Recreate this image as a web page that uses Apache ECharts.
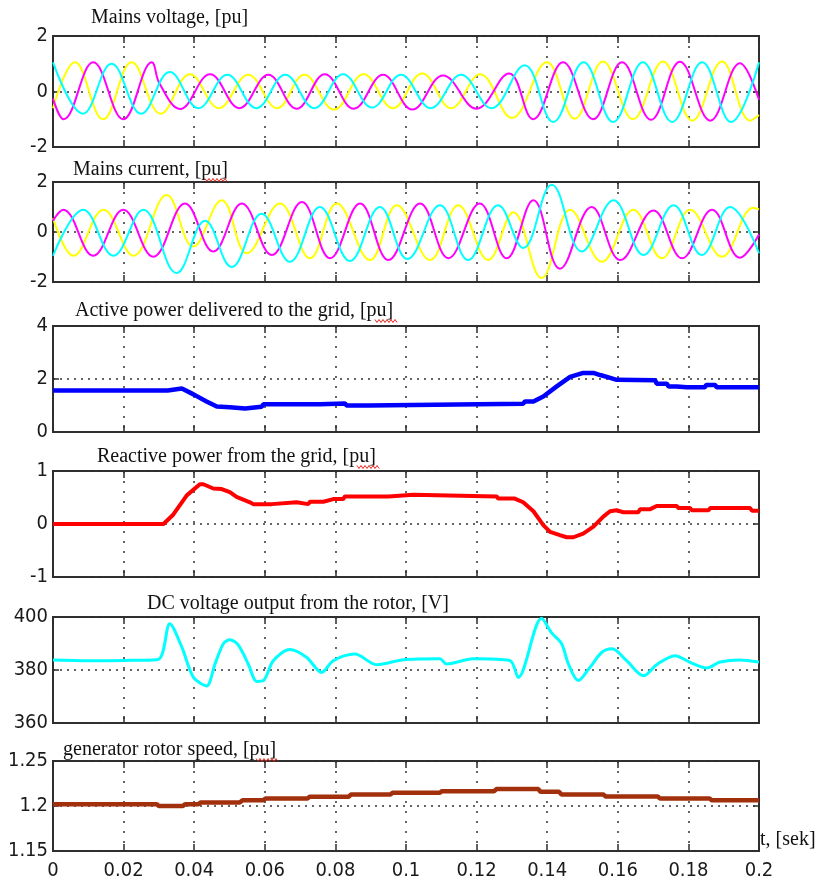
<!DOCTYPE html>
<html lang="en">
<head>
    <meta charset="UTF-8">
    <title>grid_fault_response</title>
    <style>
        html, body { margin: 0; padding: 0; background: #fff; }
    </style>
</head>
<body>
<div id="chart" style="width: 819px;height: 883px;"></div>
<script type="text/javascript" src="https://cdn.jsdelivr.net/npm/echarts@6/dist/echarts.min.js"></script>
<script type="text/javascript">
    // time axis, seconds
    const tMin = 0, tMax = 0.2, tStep = 0.02;

    const titles = [
        'Mains voltage, [pu]',
        'Mains current, [pu]',
        'Active power delivered to the grid, [pu]',
        'Reactive power from the grid, [pu]',
        'DC voltage output from the rotor, [V]',
        'generator rotor speed, [pu]'
    ];
    const timeLabel = 't, [sek]';

    // y ranges of the six panels: [min, max, interval]
    const yRanges = [[-2, 2, 2], [-2, 2, 2], [0, 4, 2], [-1, 1, 1], [360, 400, 20], [1.15, 1.25, 0.05]];

    // mains voltage, peaks and troughs of each phase [t, pu]
    const voltYellow = [[0, -0.6], [0.0062, 1.05], [0.0142, -1.0], [0.0223, 1.05], [0.0305, -0.8], [0.0388, 0.62],
        [0.0470, -0.6], [0.0553, 0.6], [0.0635, -0.6], [0.0712, 0.6], [0.0796, -0.65], [0.0880, 0.62], [0.0963, -0.6],
        [0.1046, 0.65], [0.1128, -0.6], [0.1210, 0.62], [0.1300, -0.95], [0.1399, 1.05], [0.1478, -0.98], [0.1558, 1.08],
        [0.1643, -1.0], [0.1728, 1.08], [0.1811, -1.05], [0.1895, 1.08], [0.1975, -1.05], [0.2, -0.85]];
    const voltMagenta = [[0, -0.25], [0.0030, -1.0], [0.0114, 1.05], [0.0199, -1.0], [0.0280, 1.05], [0.0302, 0.28],
        [0.0360, -0.63], [0.0445, 0.62], [0.0528, -0.6], [0.0610, 0.6], [0.0690, -0.62], [0.0770, 0.62], [0.0852, -0.62],
        [0.0935, 0.6], [0.1018, -0.65], [0.1105, 0.58], [0.1200, -0.62], [0.1292, 0.65], [0.1360, -1.0], [0.1445, 1.05],
        [0.1530, -1.0], [0.1612, 1.05], [0.1694, -1.02], [0.1776, 1.07], [0.1862, -1.05], [0.1946, 1.02], [0.2, -0.3]];
    const voltCyan = [[0, 1.05], [0.0085, -0.8], [0.0166, 1.0], [0.0250, -0.8], [0.0331, 0.7], [0.0412, -0.6],
        [0.0494, 0.6], [0.0576, -0.6], [0.0658, 0.6], [0.0740, -0.6], [0.0822, 0.62], [0.0904, -0.58], [0.0986, 0.6],
        [0.1070, -0.6], [0.1156, 0.6], [0.1242, -0.6], [0.1336, 0.95], [0.1417, -1.1], [0.1503, 1.05], [0.1587, -1.1],
        [0.1671, 1.05], [0.1754, -1.1], [0.1839, 1.05], [0.1921, -1.1], [0.2, 1.05]];

    // mains current [t, pu]
    const curYellow = [[0, 0.55], [0.0058, -0.95], [0.0143, 0.89], [0.0228, -0.95], [0.0322, 1.48], [0.0397, -0.58],
        [0.0478, 1.27], [0.0549, -0.85], [0.0643, 1.14], [0.0728, -1.05], [0.0804, 1.14], [0.0898, -1.12], [0.0974, 1.07],
        [0.1068, -1.12], [0.1148, 1.07], [0.1233, -1.12], [0.1304, 0.79], [0.1384, -1.84], [0.1465, 0.89], [0.1555, -1.19],
        [0.1644, 0.89], [0.1725, -1.05], [0.1805, 0.89], [0.1895, -0.99], [0.1984, 0.97], [0.2, 0.9]];
    const curMagenta = [[0, 0.45], [0.0029, 0.89], [0.0114, -0.95], [0.0199, 0.89], [0.0284, -0.99], [0.0374, 1.14],
        [0.0454, -0.78], [0.0535, 1.14], [0.0620, -0.92], [0.0705, 1.2], [0.0785, -1.05], [0.0870, 1.14], [0.0950, -1.12],
        [0.1040, 1.14], [0.1120, -1.05], [0.1209, 1.14], [0.1285, -1.05], [0.1361, 1.27], [0.1436, -1.47], [0.1526, 1.0],
        [0.1607, -1.12], [0.1701, 0.86], [0.1782, -1.05], [0.1867, 0.89], [0.1946, -1.03], [0.2, -0.1]];
    const curCyan = [[0, -0.95], [0.0086, 0.89], [0.0171, -0.95], [0.0256, 0.89], [0.0350, -1.64], [0.0431, 0.45],
        [0.0506, -1.4], [0.0591, 0.73], [0.0671, -1.19], [0.0756, 1.0], [0.0841, -1.16], [0.0926, 1.0], [0.1004, -1.08],
        [0.1096, 1.07], [0.1176, -1.12], [0.1261, 1.07], [0.1332, -0.64], [0.1413, 1.89], [0.1498, -0.78], [0.1588, 1.27],
        [0.1673, -0.92], [0.1758, 1.07], [0.1838, -0.92], [0.1918, 1.0], [0.2, -0.85]];

    // active power delivered to the grid [t, pu]
    const activePower = [[0, 1.57], [0.0325, 1.57], [0.0330, 1.64], [0.0365, 1.64], [0.0398, 1.42], [0.0435, 1.15],
        [0.0464, 0.96], [0.0501, 0.93], [0.0506, 0.89], [0.0544, 0.89], [0.0549, 0.955], [0.0591, 0.955], [0.0596, 1.045],
        [0.0756, 1.045], [0.0761, 1.08], [0.0827, 1.08], [0.0832, 1.0], [0.0893, 1.0], [0.0898, 1.07], [0.1332, 1.07],
        [0.1337, 1.15], [0.1361, 1.15], [0.1389, 1.34], [0.1427, 1.72], [0.1465, 2.08], [0.1502, 2.23], [0.1531, 2.23],
        [0.1550, 2.15], [0.1569, 2.08], [0.1597, 1.97], [0.1601, 1.95], [0.1706, 1.95], [0.1710, 1.82], [0.1739, 1.82],
        [0.1744, 1.72], [0.1767, 1.72], [0.1795, 1.69], [0.1847, 1.69], [0.1850, 1.77], [0.1876, 1.77], [0.1880, 1.69],
        [0.2, 1.69]];

    // reactive power from the grid [t, pu]
    const reactivePower = [[0, 0], [0.0313, 0], [0.0341, 0.18], [0.0379, 0.54], [0.0416, 0.75], [0.0426, 0.75],
        [0.0454, 0.67], [0.0478, 0.66], [0.0501, 0.6], [0.0520, 0.51], [0.0558, 0.41], [0.0567, 0.375], [0.0620, 0.375],
        [0.0624, 0.41], [0.0690, 0.41], [0.0695, 0.375], [0.0723, 0.375], [0.0728, 0.42], [0.0766, 0.42], [0.0794, 0.47],
        [0.0822, 0.47], [0.0827, 0.52], [0.0950, 0.52], [0.0955, 0.55], [0.1021, 0.55], [0.1026, 0.52], [0.1257, 0.52],
        [0.1261, 0.48], [0.1308, 0.48], [0.1332, 0.41], [0.1361, 0.24], [0.1389, -0.02], [0.1408, -0.15], [0.1436, -0.21],
        [0.1455, -0.25], [0.1474, -0.25], [0.1502, -0.18], [0.1531, -0.05], [0.1559, 0.14], [0.1578, 0.24], [0.1597, 0.26],
        [0.1616, 0.22], [0.1658, 0.22], [0.1663, 0.28], [0.1692, 0.28], [0.1710, 0.34], [0.1767, 0.34], [0.1772, 0.3],
        [0.1805, 0.3], [0.1809, 0.26], [0.1857, 0.26], [0.1862, 0.3], [0.1975, 0.3], [0.1980, 0.25], [0.2, 0.25]];

    // DC link voltage [t, V]
    const dcVoltage = [[0, 383.8], [0.010, 383.5], [0.020, 383.6], [0.0298, 384], [0.0331, 397.5], [0.0365, 388.6],
        [0.0398, 377.2], [0.0435, 374], [0.0459, 382.3], [0.0483, 390], [0.0501, 391.4], [0.0525, 389.4], [0.0554, 382],
        [0.0577, 375.7], [0.0596, 376], [0.0624, 383.5], [0.0671, 387.7], [0.0718, 384.8], [0.0761, 379.1],
        [0.0794, 383.5], [0.0855, 386], [0.0917, 382], [0.1000, 384], [0.1096, 384.2], [0.1115, 382.3], [0.1190, 384.2],
        [0.1294, 383.6], [0.1318, 377.2], [0.1384, 399.5], [0.1413, 393.9], [0.1441, 389.9], [0.1460, 382.3],
        [0.1488, 376], [0.1521, 381], [0.1555, 386.7], [0.1584, 388], [0.1625, 383.5], [0.1673, 377.8], [0.1710, 382],
        [0.1762, 385.4], [0.1805, 382.9], [0.1852, 380.8], [0.1890, 383], [0.1946, 383.8], [0.2, 383]];

    // generator rotor speed [t, pu]
    const rotorSpeed = [[0, 1.202], [0.0294, 1.202], [0.0300, 1.2], [0.0368, 1.2], [0.0374, 1.202], [0.0412, 1.202],
        [0.0418, 1.204], [0.0529, 1.204], [0.0537, 1.2065], [0.0596, 1.2065], [0.0602, 1.2084], [0.0721, 1.2084],
        [0.0727, 1.2102], [0.0838, 1.2102], [0.0844, 1.2128], [0.0956, 1.2128], [0.0962, 1.2147], [0.1096, 1.2147],
        [0.1102, 1.2165], [0.1250, 1.2165], [0.1256, 1.2188], [0.1375, 1.2188], [0.1381, 1.2158], [0.1434, 1.2158],
        [0.1440, 1.2128], [0.1559, 1.2128], [0.1565, 1.2106], [0.1713, 1.2106], [0.1719, 1.2084], [0.1860, 1.2084],
        [0.1866, 1.2065], [0.2, 1.2065]];

    // panel boxes in pixels and title anchors
    const panelTops = [36, 182, 326, 471, 617, 761];
    const panelHeights = [111, 100, 106, 106, 106, 90];
    const titleAnchors = [[91, 18], [73, 170], [75, 311], [97, 457], [147, 604], [63, 750]];
    // red spell-check squiggles under "pu": [x0, x1, y]
    const squiggles = [[205, 227, 180], [375, 397, 321], [357, 379, 467], [256, 279, 760]];

    const axisFont = '"DejaVu Sans Condensed", "Liberation Sans Narrow", sans-serif';
    const titleFont = '20px "Liberation Serif", "Times New Roman", serif';
    const frameColor = '#2e2e2e';

    let myChart = echarts.init(document.getElementById('chart'), null, {renderer: 'canvas'});

    function getGrid(i) {
        return {
            left: 53,
            right: 60,
            top: panelTops[i],
            height: panelHeights[i],
            show: true,
            borderColor: frameColor,
            borderWidth: 2,
            backgroundColor: 'transparent'
        };
    }

    function getXAxes(i, last) {
        let base = {
            type: 'value',
            gridIndex: i,
            min: tMin,
            max: tMax,
            interval: tStep,
            axisLine: {show: false, onZero: false},
            axisTick: {show: true, inside: true, length: 7, lineStyle: {color: frameColor, width: 1.5}}
        };
        let bottom = Object.assign({}, base, {
            position: 'bottom',
            axisLabel: {
                show: last,
                margin: 10,
                fontFamily: axisFont,
                fontSize: 20,
                color: '#1a1a1a'
            },
            // vertical dotted grid
            splitLine: {show: true, lineStyle: {color: '#333', width: 1.5, type: [2, 8]}}
        });
        let top = Object.assign({}, base, {
            position: 'top',
            axisLabel: {show: false},
            splitLine: {show: false}
        });
        return [bottom, top];
    }

    function getYAxes(i) {
        let r = yRanges[i];
        let base = {
            type: 'value',
            gridIndex: i,
            min: r[0],
            max: r[1],
            interval: r[2],
            axisLine: {show: false, onZero: false},
            axisTick: {show: true, inside: true, length: 6, lineStyle: {color: frameColor, width: 1.5}}
        };
        let left = Object.assign({}, base, {
            position: 'left',
            axisLabel: {
                show: true,
                margin: 5,
                fontFamily: axisFont,
                fontSize: 20,
                color: '#1a1a1a'
            },
            // horizontal dotted grid
            splitLine: {show: true, lineStyle: {color: '#333', width: 1.5, type: [2, 5]}}
        });
        let right = Object.assign({}, base, {
            position: 'right',
            axisLabel: {show: false},
            splitLine: {show: false}
        });
        return [left, right];
    }

    function lineSeries(i, data, color, width, smooth) {
        return {
            type: 'line',
            xAxisIndex: i * 2,
            yAxisIndex: i * 2,
            data: data,
            symbol: 'none',
            smooth: smooth,
            clip: true,
            lineStyle: {color: color, width: width},
            z: 3
        };
    }

    // small zigzag like a word processor's spelling mark
    function squiggle(x0, x1, y) {
        let pts = [];
        for (let x = x0, k = 0; x <= x1; x += 2, k++) {
            pts.push([x, y + (k % 2 ? 1.5 : -1.5)]);
        }
        return {
            type: 'polyline',
            shape: {points: pts},
            style: {stroke: '#e8261c', lineWidth: 1, fill: null}
        };
    }

    function getGraphics() {
        let items = titles.map(function (text, i) {
            return {
                type: 'text',
                x: titleAnchors[i][0],
                y: titleAnchors[i][1],
                style: {text: text, font: titleFont, fill: '#111', verticalAlign: 'middle'}
            };
        });
        items.push({
            type: 'text',
            x: 760,
            y: 840,
            style: {text: timeLabel, font: titleFont, fill: '#111', verticalAlign: 'middle'}
        });
        squiggles.forEach(function (s) {
            items.push(squiggle(s[0], s[1], s[2]));
        });
        return items;
    }

    function getOption() {
        let option = {
            animation: false,
            backgroundColor: '#fff',
            grid: [],
            xAxis: [],
            yAxis: [],
            series: [],
            graphic: getGraphics()
        };
        for (let i = 0; i < 6; i++) {
            option.grid.push(getGrid(i));
            option.xAxis.push.apply(option.xAxis, getXAxes(i, i === 5));
            option.yAxis.push.apply(option.yAxis, getYAxes(i));
        }
        option.series = [
            lineSeries(0, voltYellow, '#ffff00', 2, 0.4),
            lineSeries(0, voltMagenta, '#ff00ff', 2, 0.4),
            lineSeries(0, voltCyan, '#00ffff', 2, 0.4),
            lineSeries(1, curYellow, '#ffff00', 2, 0.4),
            lineSeries(1, curMagenta, '#ff00ff', 2, 0.4),
            lineSeries(1, curCyan, '#00ffff', 2, 0.4),
            lineSeries(2, activePower, '#0000ff', 4.5, false),
            lineSeries(3, reactivePower, '#ff0000', 4, false),
            lineSeries(4, dcVoltage, '#00ffff', 3, 0.3),
            lineSeries(5, rotorSpeed, '#a3300c', 4.5, false)
        ];
        return option;
    }

    myChart.setOption(getOption());
</script>
</body>
</html>
